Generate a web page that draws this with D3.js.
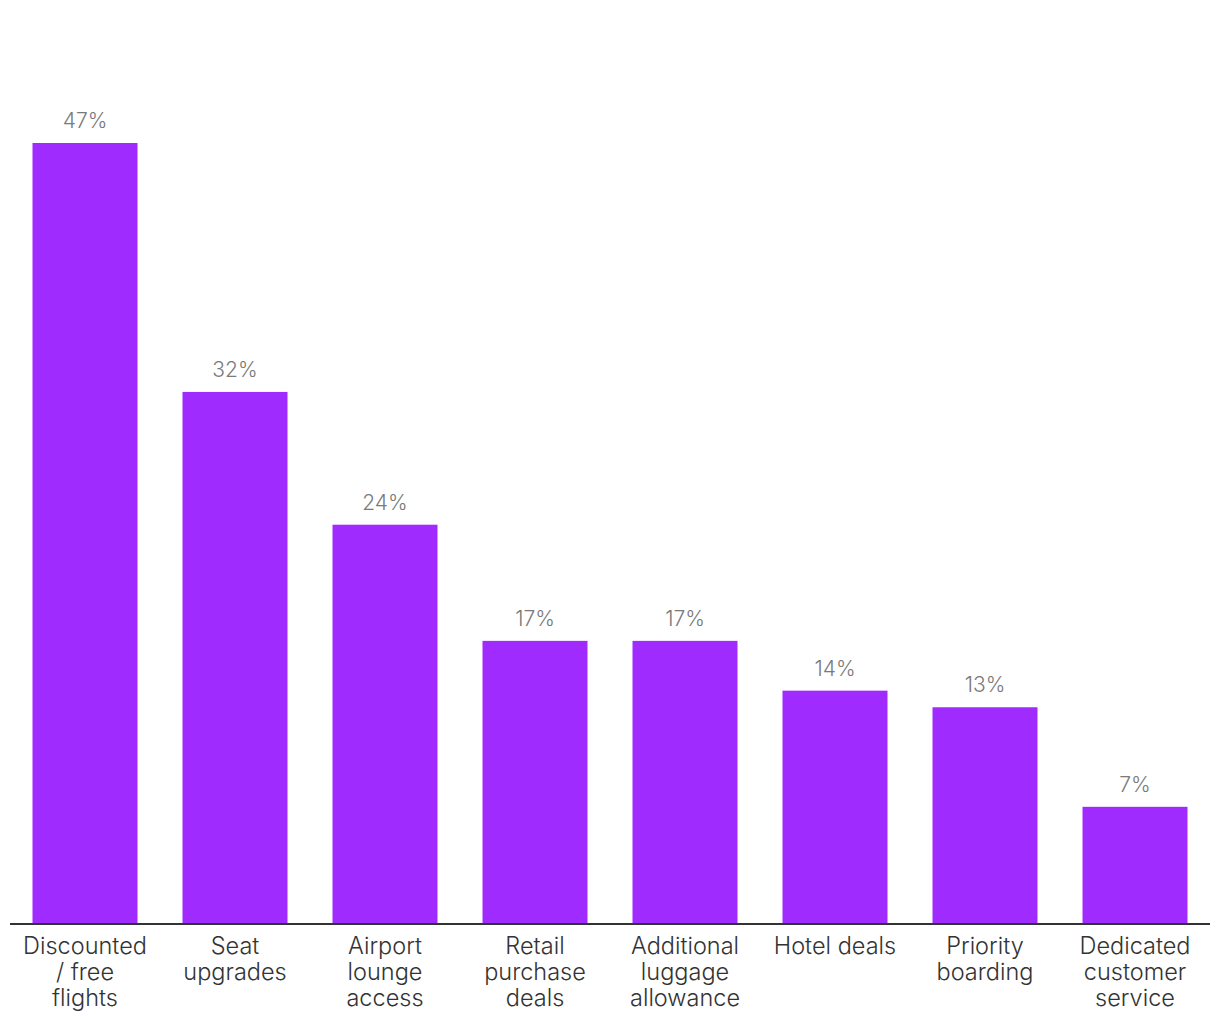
<!DOCTYPE html>
<html><head><meta charset="utf-8">
<script src="https://cdn.jsdelivr.net/npm/d3@7"></script>
<style>body{margin:0;background:#fff;} svg{display:block;}</style>
</head><body>
<script>
const categories = [
  ["Discounted", "/ free", "flights"],
  ["Seat", "upgrades"],
  ["Airport", "lounge", "access"],
  ["Retail", "purchase", "deals"],
  ["Additional", "luggage", "allowance"],
  ["Hotel deals"],
  ["Priority", "boarding"],
  ["Dedicated", "customer", "service"]
];
const values = [47, 32, 24, 17, 17, 14, 13, 7];

const W = 1220, H = 1020;
const svg = d3.select("body").append("svg").attr("width", W).attr("height", H);
const base = 923;
const x = d3.scaleBand().domain(d3.range(categories.length)).range([10, 1210]).paddingInner(0.3).paddingOuter(0.15);
const y = d3.scaleLinear().domain([0, 47]).range([base, 143]);

svg.selectAll("rect.bar").data(values).join("rect").attr("class","bar")
  .attr("x", (d,i) => x(i)).attr("width", x.bandwidth())
  .attr("y", d => y(d)).attr("height", d => base - y(d))
  .attr("fill", "#a02bff");

svg.selectAll("text.val").data(values).join("text").attr("class","val")
  .attr("x", (d,i) => x(i) + x.bandwidth()/2).attr("y", d => y(d) - 15)
  .attr("text-anchor","middle").attr("font-family","Inter, Roboto, sans-serif")
  .attr("font-weight", 300)
  .attr("font-size", 21).attr("fill","#7a7a7a").text(d => d + "%");

svg.append("line").attr("x1",10).attr("x2",1210).attr("y1",base+1).attr("y2",base+1)
  .attr("stroke","#333").attr("stroke-width",2);

const lab = svg.selectAll("text.cat").data(categories).join("text").attr("class","cat")
  .attr("text-anchor","middle").attr("font-family","Inter, Roboto, sans-serif")
  .attr("font-weight", 300)
  .attr("font-size", 23.5).attr("fill","#333");
lab.each(function(lines, i){
  d3.select(this).selectAll("tspan").data(lines).join("tspan")
    .attr("x", x(i) + x.bandwidth()/2).attr("y", (d,j) => 954 + j*26).text(d => d);
});
</script>
</body></html>
